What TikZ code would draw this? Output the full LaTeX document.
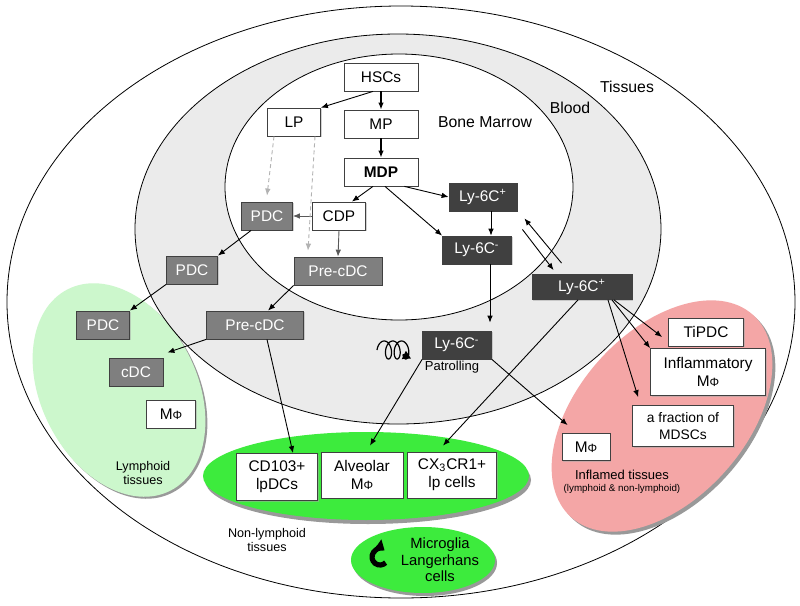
\documentclass[tikz,border=0pt]{standalone}
\usepackage{fontspec}
\setmainfont{Liberation Sans}
\usetikzlibrary{arrows.meta,shadows}
\definecolor{bloodgray}{HTML}{EBEBEB}
\definecolor{lymgreen}{HTML}{CCF7CC}
\definecolor{nlgreen}{HTML}{3DEB3D}
\definecolor{inflpink}{HTML}{F4A6A6}
\definecolor{pdcgray}{HTML}{7F7F7F}
\definecolor{lydark}{HTML}{404040}
\newcommand{\mphi}{M{\fontsize{6}{6}\selectfont Φ}}
\begin{document}
\begin{tikzpicture}[x=0.5pt,y=-0.5pt,
 cell/.style={draw=black!75, fill=white, inner sep=1pt, minimum height=14pt, align=center, font=\fontsize{7.7}{9}\selectfont, drop shadow={shadow xshift=0.7pt,shadow yshift=-0.7pt,fill=black!35}},
 pdc/.style={cell, fill=pdcgray, text=white},
 ly/.style={cell, fill=lydark, text=white},
 lbl/.style={inner sep=0pt, align=center, font=\fontsize{7.9}{9}\selectfont},
 arr/.style={-{Latex[length=3.5pt,width=2.8pt]}, line width=0.45pt},
 thk/.style={arr, line width=0.9pt},
 dsh/.style={arr, draw=black!30, dash pattern=on 2pt off 1.5pt},
 rim/.style={line width=0.4pt}]
\useasboundingbox (0,0) rectangle (800,606);
%compartments
\draw[rim, fill=white] (401,302) ellipse [x radius=197pt, y radius=148pt];
\fill[bloodgray] (398,229) ellipse [x radius=131.5pt, y radius=97.5pt];
\fill[white] (399,187) ellipse [x radius=87pt, y radius=66.5pt];
%tissue regions, shadow first
\fill[black!40, rotate around={-63:(121,392)}] (121,392) ellipse [x radius=56.5pt, y radius=39pt];
\fill[lymgreen, rotate around={-63:(119,390)}] (119,390) ellipse [x radius=56.5pt, y radius=39pt];
\fill[black!40, rotate around={48:(665,419)}] (665,419) ellipse [x radius=68pt, y radius=42pt];
\fill[inflpink, rotate around={48:(662,416)}] (662,416) ellipse [x radius=68pt, y radius=42pt];
\fill[black!40] (368,480) ellipse [x radius=81.5pt, y radius=22pt];
\fill[nlgreen] (366,476) ellipse [x radius=81.5pt, y radius=22pt];
\fill[black!40] (425,563) ellipse [x radius=36pt, y radius=16.5pt];
\fill[nlgreen] (423,560) ellipse [x radius=36pt, y radius=16.5pt];
\draw[rim] (398,229) ellipse [x radius=131.5pt, y radius=97.5pt];
\draw[rim] (399,187) ellipse [x radius=87pt, y radius=66.5pt];
%region labels
\node[lbl] (bm) at (485,122) {Bone Marrow};
\node[lbl] (blood) at (570,108) {Blood};
\node[lbl] (tis) at (627,87) {Tissues};
\node[lbl, font=\fontsize{6.3}{7.4}\selectfont] (lymt) at (143,473) {Lymphoid\\tissues};
\node[lbl, font=\fontsize{6.3}{7.4}\selectfont] (nlymt) at (267,540) {Non-lymphoid\\tissues};
\node[lbl, font=\fontsize{6.5}{7.5}\selectfont] (inft) at (622,475) {Inflamed tissues};
\node[lbl, font=\fontsize{4.9}{6}\selectfont] (infs) at (622,489) {(lymphoid \& non-lymphoid)};
\node[lbl, font=\fontsize{7.4}{8.3}\selectfont] (micro) at (440,560) {Microglia\\Langerhans\\cells};
\node[lbl, font=\fontsize{6.5}{7.5}\selectfont] (patr) at (452,367) {Patrolling};
%bone marrow cells
\node[cell, minimum width=37pt] (hsc) at (381,77) {HSCs};
\node[cell, minimum width=26.5pt] (lp) at (294,122) {LP};
\node[cell, minimum width=37pt] (mp) at (381,124) {MP};
\node[cell, minimum width=37pt, font=\fontsize{7.7}{9}\selectfont\bfseries] (mdp) at (381,172) {MDP};
\node[ly, minimum width=34pt] (lypbm) at (483,197) {Ly-6C\textsuperscript{+}};
\node[cell, minimum width=26.5pt] (cdp) at (339,216) {CDP};
\node[pdc, minimum width=25.5pt] (pdcbm) at (267,216) {PDC};
\node[pdc, minimum width=44pt] (precbm) at (338,271) {Pre-cDC};
\node[ly, minimum width=34.5pt] (lynbm) at (477,250) {Ly-6C\textsuperscript{-}};
%blood cells
\node[pdc, minimum width=25.5pt] (pdcbl) at (192,270) {PDC};
\node[pdc, minimum width=48.5pt] (precbl) at (255,325) {Pre-cDC};
\node[ly, minimum width=34.5pt] (lynbl) at (457,345) {Ly-6C\textsuperscript{-}};
\node[ly, minimum width=50pt, minimum height=12.5pt] (lypbl) at (582,287) {Ly-6C\textsuperscript{+}};
%tissue cells
\node[pdc, minimum width=26.5pt] (pdcly) at (103,325) {PDC};
\node[pdc, minimum width=27pt] (cdc) at (136,372) {cDC};
\node[cell, minimum width=24.5pt] (mply) at (171,414) {\mphi};
\node[cell, minimum width=37.5pt] (tipdc) at (706,332) {TiPDC};
\node[cell, minimum width=57.5pt, minimum height=23.5pt] (inflmp) at (708,372) {Inflammatory\\\mphi};
\node[cell, minimum width=50.5pt, minimum height=20.5pt, font=\fontsize{6.9}{8.4}\selectfont] (mdsc) at (683,426) {a fraction of\\MDSCs};
\node[cell, minimum width=24pt, minimum height=13.5pt] (mpinf) at (586,447) {\mphi};
\node[cell, minimum width=40.5pt, minimum height=23.5pt] (cd103) at (277,477) {CD103+\\lpDCs};
\node[cell, minimum width=41pt, minimum height=23pt] (alv) at (362,475) {Alveolar\\\mphi};
\node[cell, minimum width=44.5pt, minimum height=23pt] (cx3) at (452,475) {CX\textsubscript{3}CR1+\\lp cells};
%edges in bone marrow
\foreach \a/\b in {hsc/mp,mp/mdp}{\draw[thk] (\a.south) -- (\b.north);}
\draw[arr] ([xshift=-4pt]hsc.south) -- (lp.north east);
\draw[arr] ([xshift=-4pt]mdp.south) -- ([xshift=-7pt]cdp.north east);
\draw[arr] ([xshift=-7pt]mdp.south east) -- (lypbm.west);
\draw[arr] ([xshift=2pt]mdp.south) -- (lynbm.north west);
\draw[arr, draw=black!65] (cdp.west) -- (pdcbm.east);
\draw[arr, draw=black!65] (cdp.south) -- (precbm.north);
\draw[dsh] ([xshift=-10pt]lp.south) -- ([yshift=3pt]pdcbm.north);
\draw[dsh] ([xshift=10.5pt]lp.south) -- ([xshift=-15pt,yshift=3pt]precbm.north);
\draw[arr] ([xshift=4pt]lypbm.south) -- ([xshift=7pt]lynbm.north);
%edges to and in blood
\draw[arr] ([xshift=6.5pt]lynbm.south) -- ([xshift=16.5pt,yshift=4pt]lynbl.north);
\draw[arr] ([shift={(30,-11)}]lypbl.north west) -- ([shift={(7,7)}]lypbm.south east);
\draw[arr] ([shift={(5,18)}]lypbm.south east) -- ([shift={(22,-4)}]lypbl.north west);
\draw[arr] ([xshift=5pt]pdcbm.south west) -- (pdcbl.north east);
\draw[arr] (pdcbl.south west) -- (pdcly.north east);
\draw[arr] (precbm.south west) -- ([xshift=6.5pt]precbl.north);
%edges to tissues
\draw[arr] (precbl.south west) -- ([shift={(4,-5)}]cdc.north east);
\draw[arr] ([xshift=6pt]precbl.south) -- ([xshift=8pt]cd103.north);
\draw[arr] (lynbl.south west) -- ([xshift=4pt,yshift=3pt]alv.north);
\draw[arr] (lynbl.south east) -- ([shift={(6,-8)}]mpinf.north west);
\draw[arr] ([xshift=-2pt]lypbl.south) -- ([xshift=-4.5pt,yshift=3pt]cx3.north);
\draw[arr] ([xshift=16pt]lypbl.south) -- ([shift={(-6,5)}]tipdc.west);
\draw[arr] ([xshift=15pt]lypbl.south) -- (inflmp.north west);
\draw[arr] ([xshift=13pt]lypbl.south) -- ([shift={(6,-8)}]mdsc.north west);
%patrolling coil and self-renewal sign
\draw[line width=0.6pt] plot[domain=0:1050, samples=150, smooth] ({382+\x/1080*26-5*cos(\x)}, {350-9*sin(\x)}) coordinate (coilB);
\draw[-{Triangle[length=4pt,width=4.5pt]}, line width=0.6pt] (coilB) -- ++(8,4);
\coordinate (renew) at (380,557);
\draw[line width=2.6pt, {Triangle[length=4.5pt,width=7pt]}-] ([shift={(55:4pt)}]renew) arc[start angle=55, end angle=315, radius=4pt];
\end{tikzpicture}
\end{document}
